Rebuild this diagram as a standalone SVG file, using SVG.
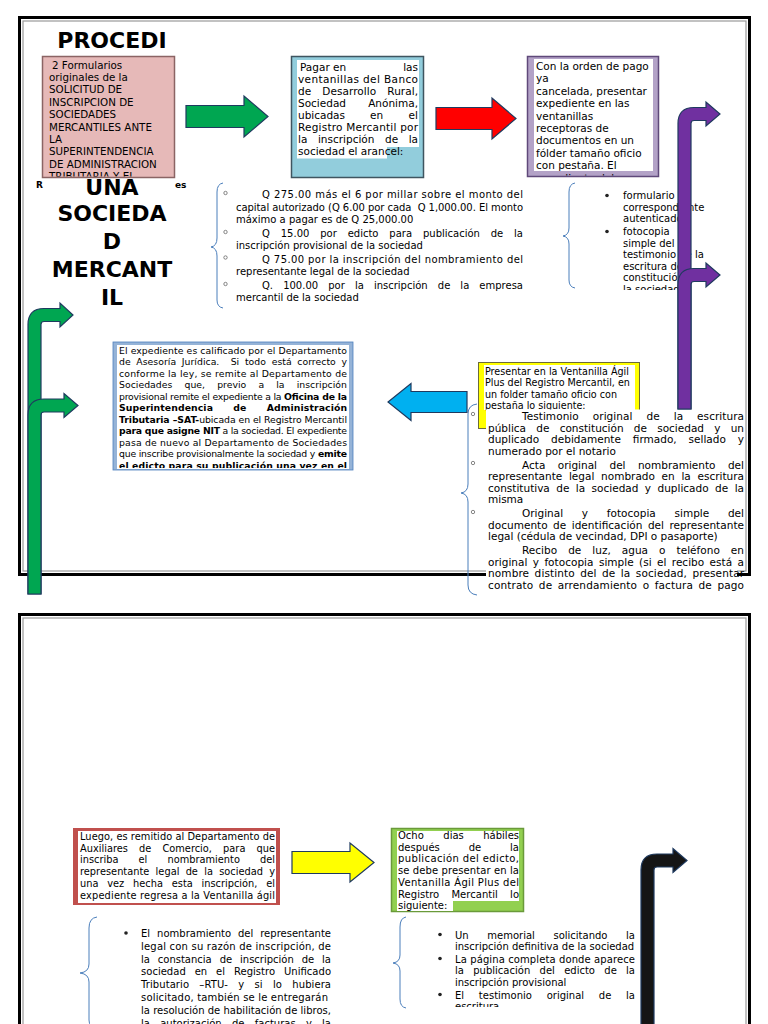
<svg xmlns="http://www.w3.org/2000/svg" width="768" height="1024" viewBox="0 0 768 1024">
<defs>
<style>
text{font-family:"DejaVu Sans","Liberation Sans",sans-serif;fill:#000}
.title{font-size:22px;font-weight:bold;text-anchor:middle}
.b{font-weight:bold}
.arw{stroke:#1f3a5f;stroke-width:1.2;stroke-linejoin:miter}
.brace{fill:none;stroke:#4a7ebb;stroke-width:1}
.frame{fill:none;stroke:#000;stroke-width:3}
.frame2{fill:none;stroke:#9a9a9a;stroke-width:1.2}
.hb{fill:#fff;stroke:#555;stroke-width:0.7}
.db{fill:#222}
</style>
<clipPath id="cPink"><rect x="43.5" y="57.5" width="130" height="119"/></clipPath>
<clipPath id="cPurple"><rect x="528.5" y="57.5" width="129" height="118"/></clipPath>
<clipPath id="cRT"><rect x="600" y="185" width="150" height="105"/></clipPath>
<clipPath id="cMid"><rect x="113" y="342" width="240" height="126"/></clipPath>
<clipPath id="cBR"><rect x="430" y="915" width="220" height="92"/></clipPath>
</defs>
<rect x="0" y="0" width="768" height="1024" fill="#fff"/>

<g id="frames">
<rect class="frame" x="19.5" y="17.5" width="730" height="557"/>
<rect class="frame2" x="23" y="21" width="723" height="550"/>
<rect class="frame" x="19.5" y="614.5" width="730" height="430"/>
<rect class="frame2" x="23" y="618" width="723" height="430"/>
</g>

<g id="title">
<text class="title" x="112" y="48">PROCEDI</text>
<text class="title" x="112" y="195">UNA</text>
<text class="title" x="112" y="221">SOCIEDA</text>
<text class="title" x="112" y="249">D</text>
<text class="title" x="112" y="277">MERCANT</text>
<text class="title" x="112" y="305">IL</text>
<text class="b" x="36" y="188" font-size="9">R</text>
<text class="b" x="175" y="188" font-size="9">es</text>
</g>

<g id="n-formularios">
<rect x="42.5" y="56.5" width="132" height="121" fill="#e6b9b8" stroke="#8b6464" stroke-width="1.5"/>
<g clip-path="url(#cPink)" font-size="10.3">
<text x="52" y="68.6">2 Formularios</text>
<text x="49" y="81">originales de la</text>
<text x="49" y="93.4">SOLICITUD DE</text>
<text x="49" y="105.8">INSCRIPCION DE</text>
<text x="49" y="118.2">SOCIEDADES</text>
<text x="49" y="130.6">MERCANTILES ANTE</text>
<text x="49" y="143">LA</text>
<text x="49" y="155.4">SUPERINTENDENCIA</text>
<text x="49" y="167.8">DE ADMINISTRACION</text>
<text x="49" y="180.2">TRIBUTARIA Y EL</text>
</g>
</g>

<g id="n-pagar" font-size="10.5">
<rect x="291.5" y="56.5" width="132" height="121" fill="#92cddc" stroke="#3f5560" stroke-width="1.5"/>
<rect x="297" y="60" width="122" height="87" fill="#fff"/>
<rect x="297" y="147" width="90" height="11.5" fill="#fff"/>
<text x="300" y="70.5">Pagar en</text><text x="418" y="70.5" text-anchor="end">las</text>
<text x="298" y="82.5" textLength="120">ventanillas del Banco</text>
<text x="298" y="94.5" textLength="120" word-spacing="7.7">de Desarrollo Rural,</text>
<text x="298" y="106.5">Sociedad</text><text x="418" y="106.5" text-anchor="end">Anónima,</text>
<text x="298" y="118.5">ubicadas</text><text x="370" y="118.5">en</text><text x="418" y="118.5" text-anchor="end">el</text>
<text x="298" y="130.5" textLength="120">Registro Mercantil por</text>
<text x="298" y="142.5" textLength="120" word-spacing="7.2">la inscripción de la</text>
<text x="298" y="154.5">sociedad el arancel:</text>
</g>

<g id="n-orden" font-size="10.5">
<rect x="527.5" y="56.5" width="131" height="120" fill="#b3a2c7" stroke="#5f497a" stroke-width="1.5"/>
<rect x="534" y="59" width="119" height="112" fill="#fff"/>
<g clip-path="url(#cPurple)">
<text x="536" y="70">Con la orden de pago</text>
<text x="536" y="82.4">ya</text>
<text x="536" y="94.8">cancelada, presentar</text>
<text x="536" y="107.2">expediente en las</text>
<text x="536" y="119.6">ventanillas</text>
<text x="536" y="132">receptoras de</text>
<text x="536" y="144.4">documentos en un</text>
<text x="536" y="156.8">fólder tamaño oficio</text>
<text x="536" y="169.2">con pestaña. El</text>
<text x="536" y="181.6">expediente debe</text>
</g>
</g>

<g id="n-aranceles" font-size="10">
<path class="brace" d="M223,183 Q217,184 217,192 L217,238 Q217,246 211,247 Q217,248 217,256 L217,300 Q217,307 223,308"/>
<circle class="hb" cx="225.5" cy="193" r="1.7"/>
<circle class="hb" cx="225.5" cy="232" r="1.7"/>
<circle class="hb" cx="225.5" cy="257.5" r="1.7"/>
<circle class="hb" cx="225.5" cy="284" r="1.7"/>
<text x="262" y="198" textLength="261">Q 275.00 más el 6 por millar sobre el monto del</text>
<text x="236" y="210.5" textLength="287">capital autorizado (Q 6.00 por cada&#160; Q 1,000.00. El monto</text>
<text x="236" y="223">máximo a pagar es de Q 25,000.00</text>
<text x="262" y="237" textLength="261" word-spacing="7.7">Q 15.00 por edicto para publicación de la</text>
<text x="236" y="249">inscripción provisional de la sociedad</text>
<text x="262" y="262.5" textLength="261">Q 75.00 por la inscripción del nombramiento del</text>
<text x="236" y="274.5">representante legal de la sociedad</text>
<text x="262" y="289" textLength="261" word-spacing="6.9">Q. 100.00 por la inscripción de la empresa</text>
<text x="236" y="301">mercantil de la sociedad</text>
</g>

<g id="n-documentos" font-size="10">
<path class="brace" d="M575,183 Q569,184 569,192 L569,228 Q569,235 563,236 Q569,237 569,244 L569,280 Q569,287 575,288"/>
<circle class="db" cx="607" cy="195.5" r="1.8"/>
<circle class="db" cx="607" cy="231.5" r="1.8"/>
<g clip-path="url(#cRT)">
<text x="623" y="199">formulario</text>
<text x="623" y="210.6">correspondiente</text>
<text x="623" y="222.2">autenticado</text>
<text x="623" y="235">fotocopia</text>
<text x="623" y="246.6">simple del</text>
<text x="623" y="258.2">testimonio de la</text>
<text x="623" y="269.8">escritura de</text>
<text x="623" y="281.4">constitución</text>
<text x="623" y="293">la sociedad</text>
</g>
</g>

<g id="n-calificado" font-size="9.3">
<rect x="113" y="342" width="240" height="128" fill="#95b3d7" stroke="#4f81bd" stroke-width="0.8"/>
<rect x="117" y="345" width="232" height="124" fill="#fff"/>
<g clip-path="url(#cMid)">
<text x="119" y="353.5" textLength="228">El expediente es calificado por el Departamento</text>
<text x="119" y="365" textLength="228" word-spacing="2.7">de Asesoría Jurídica.&#160; Si todo está correcto y</text>
<text x="119" y="376.5" textLength="228">conforme la ley, se remite al Departamento de</text>
<text x="119" y="388" textLength="228" word-spacing="9.1">Sociedades que, previo a la inscripción</text>
<text x="119" y="399.5" textLength="228">provisional remite el expediente a la <tspan class="b">Oficina de la</tspan></text>
<text x="119" y="411" class="b" textLength="228" word-spacing="17">Superintendencia de Administración</text>
<text x="119" y="422.5" textLength="228"><tspan class="b">Tributaria –SAT-</tspan>ubicada en el Registro Mercantil</text>
<text x="119" y="434" textLength="228"><tspan class="b">para que asigne NIT</tspan> a la sociedad. El expediente</text>
<text x="119" y="445.5" textLength="228">pasa de nuevo al Departamento de Sociedades</text>
<text x="119" y="457" textLength="228">que inscribe provisionalmente la sociedad y <tspan class="b">emite</tspan></text>
<text x="119" y="468.5" class="b" textLength="228">el edicto para su publicación una vez en el</text>
</g>
</g>

<g id="n-ventanilla" font-size="9.6">
<rect x="478.5" y="362.5" width="161" height="66" fill="#ffff00" stroke="#6b6b3a" stroke-width="1"/>
<rect x="484" y="365" width="151" height="45" fill="#fff"/>
<text x="485" y="374.5">Presentar en la Ventanilla Ágil</text>
<text x="485" y="386">Plus del Registro Mercantil, en</text>
<text x="485" y="397.5">un folder tamaño oficio con</text>
<text x="485" y="409">pestaña lo siguiente:</text>
</g>

<g id="n-requisitos" font-size="10.5">
<rect x="486" y="409.5" width="251" height="187" fill="#fff"/>
<path class="brace" d="M477,404 Q468,405 468,414 L468,484 Q468,492 461,493 Q468,494 468,502 L468,585 Q468,594 477,595"/>
<circle class="hb" cx="473" cy="414" r="1.7"/>
<circle class="hb" cx="473" cy="463" r="1.7"/>
<circle class="hb" cx="473" cy="512" r="1.7"/>
<text x="522" y="420" textLength="222" word-spacing="10.6">Testimonio original de la escritura</text>
<text x="488" y="431.5" textLength="256" word-spacing="6.9">pública de constitución de sociedad y un</text>
<text x="488" y="443" textLength="256" word-spacing="8.5">duplicado debidamente firmado, sellado y</text>
<text x="488" y="454.5">numerado por el notario</text>
<text x="522" y="468.5" textLength="222" word-spacing="9.1">Acta original del nombramiento del</text>
<text x="488" y="480" textLength="256" word-spacing="3.3">representante legal nombrado en la escritura</text>
<text x="488" y="491.5" textLength="256" word-spacing="3.1">constitutiva de la sociedad y duplicado de la</text>
<text x="488" y="503">misma</text>
<text x="522" y="517" textLength="222" word-spacing="15.4">Original y fotocopia simple del</text>
<text x="488" y="528.5" textLength="256" word-spacing="2">documento de identificación del representante</text>
<text x="488" y="540">legal (cédula de vecindad, DPI o pasaporte)</text>
<text x="522" y="554" textLength="222" word-spacing="7.7">Recibo de luz, agua o teléfono en</text>
<text x="488" y="565.5" textLength="256" word-spacing="2">original y fotocopia simple (si el recibo está a</text>
<text x="488" y="577" textLength="256" word-spacing="2">nombre distinto del de la sociedad, presentar</text>
<text x="488" y="588.5" textLength="256" word-spacing="2">contrato de arrendamiento o factura de pago</text>
</g>

<g id="n-auxiliares" font-size="9.8">
<rect x="73" y="828" width="207" height="77" fill="#c0504d"/>
<rect x="78" y="831" width="198" height="72" fill="#fff"/>
<text x="80" y="840" textLength="195">Luego, es remitido al Departamento de</text>
<text x="80" y="851.7" textLength="195" word-spacing="8">Auxiliares de Comercio, para que</text>
<text x="80" y="863.4" textLength="195" word-spacing="17">inscriba el nombramiento del</text>
<text x="80" y="875.1" textLength="195" word-spacing="3.1">representante legal de la sociedad y</text>
<text x="80" y="886.8" textLength="195" word-spacing="5.7">una vez hecha esta inscripción, el</text>
<text x="80" y="898.5" textLength="195">expediente regresa a la Ventanilla ágil</text>
</g>

<g id="n-entrega" font-size="10">
<path class="brace" d="M97,917 Q89,918 89,928 L89,964 Q89,972 80,973 Q89,974 89,982 L89,1020 Q89,1028 97,1029"/>
<circle class="db" cx="126" cy="933" r="1.8"/>
<text x="141" y="937" textLength="190" word-spacing="3.7">El nombramiento del representante</text>
<text x="141" y="949.8" textLength="190">legal con su razón de inscripción, de</text>
<text x="141" y="962.6" textLength="190" word-spacing="4.7">la constancia de inscripción de la</text>
<text x="141" y="975.4" textLength="190" word-spacing="5.7">sociedad en el Registro Unificado</text>
<text x="141" y="988.2" textLength="190" word-spacing="7">Tributario –RTU- y si lo hubiera</text>
<text x="141" y="1001" textLength="187">solicitado, también se le entregarán</text>
<text x="141" y="1013.8" textLength="190">la resolución de habilitación de libros,</text>
<text x="141" y="1026.6" textLength="190" word-spacing="7.1">la autorización de facturas y la</text>
</g>

<g id="n-ocho-dias" font-size="10">
<rect x="391.5" y="828.5" width="132" height="83" fill="#92d050" stroke="#6a9a3a" stroke-width="1.5"/>
<rect x="397" y="831" width="122" height="70" fill="#fff"/>
<rect x="397" y="901" width="56" height="10" fill="#fff"/>
<text x="398" y="839" textLength="121" word-spacing="16.3">Ocho dias hábiles</text>
<text x="398" y="850.7" textLength="121" word-spacing="25.7">después de la</text>
<text x="398" y="862.4" textLength="121">publicación del edicto,</text>
<text x="398" y="874.1" textLength="121">se debe presentar en la</text>
<text x="398" y="885.8" textLength="121">Ventanilla Ágil Plus del</text>
<text x="398" y="897.5" textLength="121" word-spacing="8.9">Registro Mercantil lo</text>
<text x="398" y="909.2">siguiente:</text>
</g>

<g id="n-definitiva" font-size="10">
<path class="brace" d="M406,917 Q400,918 400,927 L400,955 Q400,962 393,963 Q400,964 400,971 L400,999 Q400,1007 406,1008"/>
<circle class="db" cx="440" cy="934.5" r="1.8"/>
<circle class="db" cx="440" cy="958.5" r="1.8"/>
<circle class="db" cx="440" cy="994.5" r="1.8"/>
<g clip-path="url(#cBR)">
<text x="455" y="938.5" textLength="180" word-spacing="15.4">Un memorial solicitando la</text>
<text x="455" y="950.3">inscripción definitiva de la sociedad</text>
<text x="455" y="962.6" textLength="180">La página completa donde aparece</text>
<text x="455" y="974.4" textLength="180" word-spacing="6.1">la publicación del edicto de la</text>
<text x="455" y="986.2">inscripción provisional</text>
<text x="455" y="998.5" textLength="180" word-spacing="11.6">El testimonio original de la</text>
<text x="455" y="1010.3">escritura</text>
</g>
</g>

<g id="connectors">
<polygon class="arw" fill="#00a651" points="186,105.5 244,105.5 244,96 268,116.5 244,137 244,127.5 186,127.5"/>
<polygon class="arw" fill="#ff0000" points="436,107.5 492,107.5 492,98 516,118.5 492,139 492,129.5 436,129.5"/>
<polygon class="arw" fill="#00b0f0" points="467,391.5 411,391.5 411,383.5 388,402 411,420.5 411,412.5 467,412.5"/>
<polygon class="arw" fill="#ffff00" points="292,851.5 350,851.5 350,843 374,862.5 350,882 350,873.5 292,873.5"/>
<path class="arw" fill="#7030a0" d="M678,409 V123.5 Q678,107.5 694,107.5 H706 V102 L720,114 L706,126 V120.5 H694 Q691,120.5 691,123.5 V409 Z"/>
<path class="arw" fill="#7030a0" d="M678,409 V284.5 Q678,268.5 694,268.5 H706 V263 L720,275 L706,287 V281.5 H694 Q691,281.5 691,284.5 V409 Z"/>
<path class="arw" fill="#00a651" d="M28,594 V324.5 Q28,308.5 44,308.5 H60 V303 L73,315 L60,327 V321.5 H44 Q41,321.5 41,324.5 V594 Z"/>
<path class="arw" fill="#00a651" d="M28,594 V415 Q28,399 44,399 H64 V393.5 L78,405.5 L64,417.5 V412 H44 Q41,412 41,415 V594 Z"/>
<path class="arw" fill="#151515" d="M641,1030 V870 Q641,854 657,854 H673 V848.5 L687,860.5 L673,872.5 V867 H657 Q654,867 654,870 V1030 Z"/>
</g>
</svg>
